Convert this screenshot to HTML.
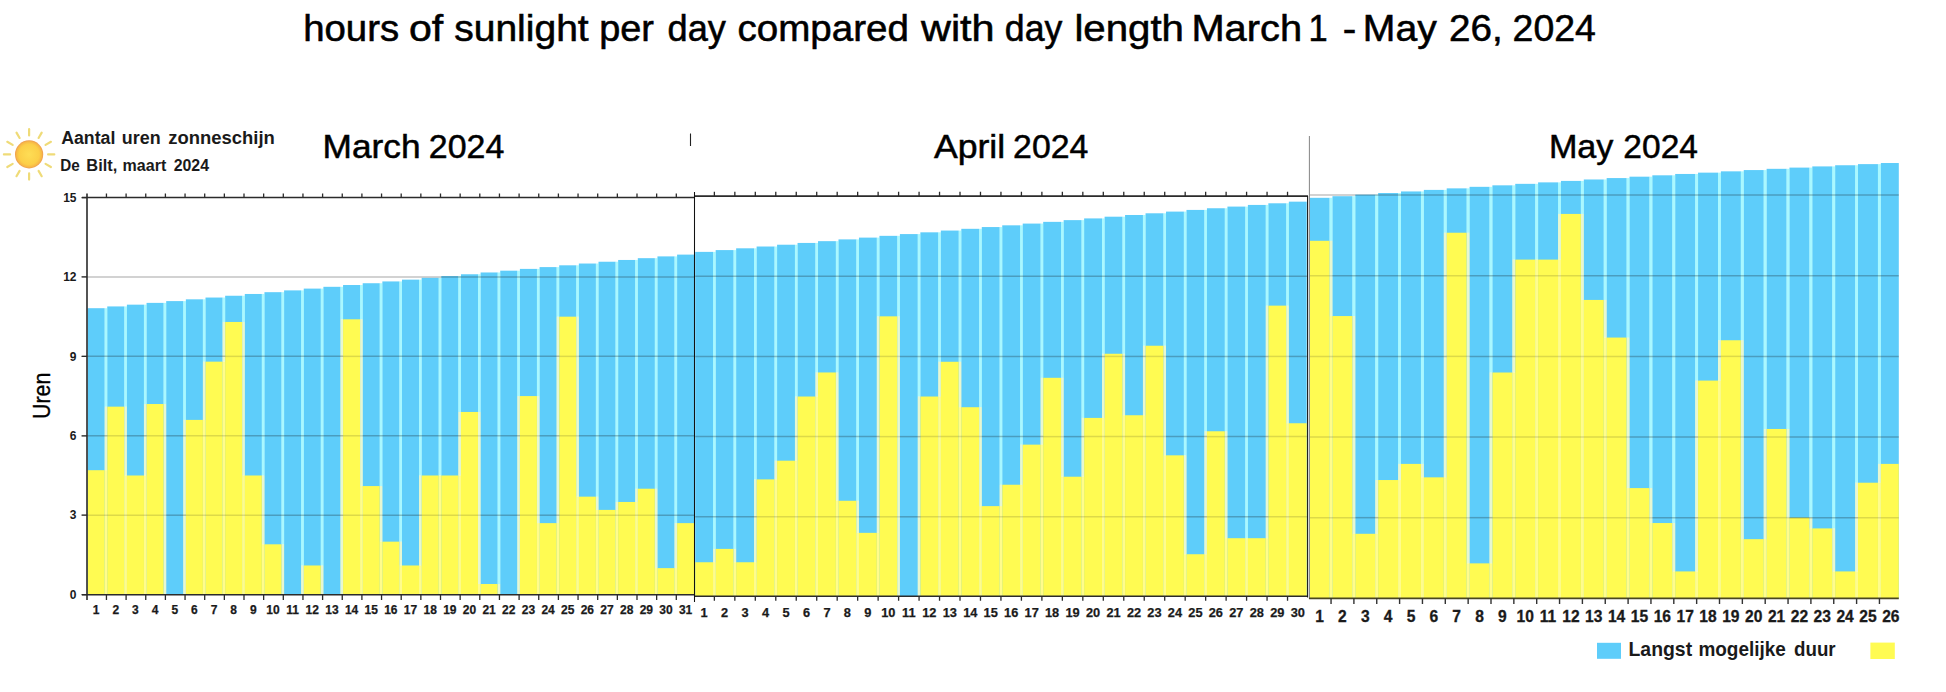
<!DOCTYPE html>
<html lang="en"><head><meta charset="utf-8"><title>hours of sunlight per day compared with day length</title>
<style>html,body{margin:0;padding:0;background:#fff}body{width:1946px;height:692px;overflow:hidden}svg{display:block}</style></head>
<body>
<svg width="1946" height="692" viewBox="0 0 1946 692">
<rect width="1946" height="692" fill="#fff"/>
<g id="bars-mar">
<rect x="87.6" y="308.2" width="17.05" height="286.4" fill="#5ecdfa"/>
<rect x="87.6" y="470.19" width="17.05" height="124.41" fill="#fffb52"/>
<rect x="107.25" y="306.43" width="17.05" height="288.17" fill="#5ecdfa"/>
<rect x="107.25" y="406.66" width="17.05" height="187.94" fill="#fffb52"/>
<rect x="126.9" y="304.66" width="17.05" height="289.94" fill="#5ecdfa"/>
<rect x="126.9" y="475.49" width="17.05" height="119.12" fill="#fffb52"/>
<rect x="146.55" y="302.88" width="17.05" height="291.72" fill="#5ecdfa"/>
<rect x="146.55" y="404.02" width="17.05" height="190.58" fill="#fffb52"/>
<rect x="166.2" y="301.1" width="17.05" height="293.5" fill="#5ecdfa"/>
<rect x="185.85" y="299.32" width="17.05" height="295.28" fill="#5ecdfa"/>
<rect x="185.85" y="419.9" width="17.05" height="174.7" fill="#fffb52"/>
<rect x="205.5" y="297.54" width="17.05" height="297.06" fill="#5ecdfa"/>
<rect x="205.5" y="361.66" width="17.05" height="232.94" fill="#fffb52"/>
<rect x="225.15" y="295.75" width="17.05" height="298.85" fill="#5ecdfa"/>
<rect x="225.15" y="321.96" width="17.05" height="272.64" fill="#fffb52"/>
<rect x="244.8" y="293.97" width="17.05" height="300.63" fill="#5ecdfa"/>
<rect x="244.8" y="475.49" width="17.05" height="119.12" fill="#fffb52"/>
<rect x="264.45" y="292.18" width="17.05" height="302.42" fill="#5ecdfa"/>
<rect x="264.45" y="544.31" width="17.05" height="50.29" fill="#fffb52"/>
<rect x="284.1" y="290.39" width="17.05" height="304.21" fill="#5ecdfa"/>
<rect x="303.75" y="288.6" width="17.05" height="306" fill="#5ecdfa"/>
<rect x="303.75" y="565.48" width="17.05" height="29.12" fill="#fffb52"/>
<rect x="323.4" y="286.81" width="17.05" height="307.79" fill="#5ecdfa"/>
<rect x="343.05" y="285.02" width="17.05" height="309.58" fill="#5ecdfa"/>
<rect x="343.05" y="319.31" width="17.05" height="275.29" fill="#fffb52"/>
<rect x="362.7" y="283.23" width="17.05" height="311.37" fill="#5ecdfa"/>
<rect x="362.7" y="486.07" width="17.05" height="108.53" fill="#fffb52"/>
<rect x="382.35" y="281.43" width="17.05" height="313.17" fill="#5ecdfa"/>
<rect x="382.35" y="541.66" width="17.05" height="52.94" fill="#fffb52"/>
<rect x="402" y="279.64" width="17.05" height="314.96" fill="#5ecdfa"/>
<rect x="402" y="565.48" width="17.05" height="29.12" fill="#fffb52"/>
<rect x="421.65" y="277.85" width="17.05" height="316.75" fill="#5ecdfa"/>
<rect x="421.65" y="475.49" width="17.05" height="119.12" fill="#fffb52"/>
<rect x="441.3" y="276.06" width="17.05" height="318.54" fill="#5ecdfa"/>
<rect x="441.3" y="475.49" width="17.05" height="119.12" fill="#fffb52"/>
<rect x="460.95" y="274.26" width="17.05" height="320.34" fill="#5ecdfa"/>
<rect x="460.95" y="411.96" width="17.05" height="182.64" fill="#fffb52"/>
<rect x="480.6" y="272.47" width="17.05" height="322.13" fill="#5ecdfa"/>
<rect x="480.6" y="584.01" width="17.05" height="10.59" fill="#fffb52"/>
<rect x="500.25" y="270.68" width="17.05" height="323.92" fill="#5ecdfa"/>
<rect x="519.9" y="268.89" width="17.05" height="325.71" fill="#5ecdfa"/>
<rect x="519.9" y="396.08" width="17.05" height="198.52" fill="#fffb52"/>
<rect x="539.55" y="267.1" width="17.05" height="327.5" fill="#5ecdfa"/>
<rect x="539.55" y="523.13" width="17.05" height="71.47" fill="#fffb52"/>
<rect x="559.2" y="265.31" width="17.05" height="329.29" fill="#5ecdfa"/>
<rect x="559.2" y="316.67" width="17.05" height="277.94" fill="#fffb52"/>
<rect x="578.85" y="263.53" width="17.05" height="331.07" fill="#5ecdfa"/>
<rect x="578.85" y="496.66" width="17.05" height="97.94" fill="#fffb52"/>
<rect x="598.5" y="261.74" width="17.05" height="332.86" fill="#5ecdfa"/>
<rect x="598.5" y="509.9" width="17.05" height="84.7" fill="#fffb52"/>
<rect x="618.15" y="259.96" width="17.05" height="334.64" fill="#5ecdfa"/>
<rect x="618.15" y="501.96" width="17.05" height="92.64" fill="#fffb52"/>
<rect x="637.8" y="258.17" width="17.05" height="336.43" fill="#5ecdfa"/>
<rect x="637.8" y="488.72" width="17.05" height="105.88" fill="#fffb52"/>
<rect x="657.45" y="256.39" width="17.05" height="338.21" fill="#5ecdfa"/>
<rect x="657.45" y="568.13" width="17.05" height="26.47" fill="#fffb52"/>
<rect x="677.1" y="254.61" width="17.05" height="339.99" fill="#5ecdfa"/>
<rect x="677.1" y="523.13" width="17.05" height="71.47" fill="#fffb52"/>
<rect x="104.6" y="308.2" width="2.7" height="98.46" fill="#62f2ff" fill-opacity="0.55"/>
<rect x="104.6" y="406.66" width="2.7" height="63.53" fill="#c9ee9a" fill-opacity="0.45"/>
<rect x="104.6" y="470.19" width="2.7" height="124.41" fill="#fffb52" fill-opacity="0.66"/>
<rect x="124.25" y="306.43" width="2.7" height="100.23" fill="#62f2ff" fill-opacity="0.55"/>
<rect x="124.25" y="406.66" width="2.7" height="68.82" fill="#c9ee9a" fill-opacity="0.45"/>
<rect x="124.25" y="475.49" width="2.7" height="119.12" fill="#fffb52" fill-opacity="0.66"/>
<rect x="143.9" y="304.66" width="2.7" height="99.36" fill="#62f2ff" fill-opacity="0.55"/>
<rect x="143.9" y="404.02" width="2.7" height="71.47" fill="#c9ee9a" fill-opacity="0.45"/>
<rect x="143.9" y="475.49" width="2.7" height="119.12" fill="#fffb52" fill-opacity="0.66"/>
<rect x="163.55" y="302.88" width="2.7" height="101.13" fill="#62f2ff" fill-opacity="0.55"/>
<rect x="163.55" y="404.02" width="2.7" height="190.58" fill="#c9ee9a" fill-opacity="0.45"/>
<rect x="183.2" y="301.1" width="2.7" height="118.8" fill="#62f2ff" fill-opacity="0.55"/>
<rect x="183.2" y="419.9" width="2.7" height="174.7" fill="#c9ee9a" fill-opacity="0.45"/>
<rect x="202.85" y="299.32" width="2.7" height="62.34" fill="#62f2ff" fill-opacity="0.55"/>
<rect x="202.85" y="361.66" width="2.7" height="58.23" fill="#c9ee9a" fill-opacity="0.45"/>
<rect x="202.85" y="419.9" width="2.7" height="174.7" fill="#fffb52" fill-opacity="0.66"/>
<rect x="222.5" y="297.54" width="2.7" height="24.42" fill="#62f2ff" fill-opacity="0.55"/>
<rect x="222.5" y="321.96" width="2.7" height="39.7" fill="#c9ee9a" fill-opacity="0.45"/>
<rect x="222.5" y="361.66" width="2.7" height="232.94" fill="#fffb52" fill-opacity="0.66"/>
<rect x="242.15" y="295.75" width="2.7" height="26.21" fill="#62f2ff" fill-opacity="0.55"/>
<rect x="242.15" y="321.96" width="2.7" height="153.53" fill="#c9ee9a" fill-opacity="0.45"/>
<rect x="242.15" y="475.49" width="2.7" height="119.12" fill="#fffb52" fill-opacity="0.66"/>
<rect x="261.8" y="293.97" width="2.7" height="181.52" fill="#62f2ff" fill-opacity="0.55"/>
<rect x="261.8" y="475.49" width="2.7" height="68.82" fill="#c9ee9a" fill-opacity="0.45"/>
<rect x="261.8" y="544.31" width="2.7" height="50.29" fill="#fffb52" fill-opacity="0.66"/>
<rect x="281.45" y="292.18" width="2.7" height="252.13" fill="#62f2ff" fill-opacity="0.55"/>
<rect x="281.45" y="544.31" width="2.7" height="50.29" fill="#c9ee9a" fill-opacity="0.45"/>
<rect x="301.1" y="290.39" width="2.7" height="275.09" fill="#62f2ff" fill-opacity="0.55"/>
<rect x="301.1" y="565.48" width="2.7" height="29.12" fill="#c9ee9a" fill-opacity="0.45"/>
<rect x="320.75" y="288.6" width="2.7" height="276.88" fill="#62f2ff" fill-opacity="0.55"/>
<rect x="320.75" y="565.48" width="2.7" height="29.12" fill="#c9ee9a" fill-opacity="0.45"/>
<rect x="340.4" y="286.81" width="2.7" height="32.5" fill="#62f2ff" fill-opacity="0.55"/>
<rect x="340.4" y="319.31" width="2.7" height="275.29" fill="#c9ee9a" fill-opacity="0.45"/>
<rect x="360.05" y="285.02" width="2.7" height="34.29" fill="#62f2ff" fill-opacity="0.55"/>
<rect x="360.05" y="319.31" width="2.7" height="166.76" fill="#c9ee9a" fill-opacity="0.45"/>
<rect x="360.05" y="486.07" width="2.7" height="108.53" fill="#fffb52" fill-opacity="0.66"/>
<rect x="379.7" y="283.23" width="2.7" height="202.85" fill="#62f2ff" fill-opacity="0.55"/>
<rect x="379.7" y="486.07" width="2.7" height="55.59" fill="#c9ee9a" fill-opacity="0.45"/>
<rect x="379.7" y="541.66" width="2.7" height="52.94" fill="#fffb52" fill-opacity="0.66"/>
<rect x="399.35" y="281.43" width="2.7" height="260.23" fill="#62f2ff" fill-opacity="0.55"/>
<rect x="399.35" y="541.66" width="2.7" height="23.82" fill="#c9ee9a" fill-opacity="0.45"/>
<rect x="399.35" y="565.48" width="2.7" height="29.12" fill="#fffb52" fill-opacity="0.66"/>
<rect x="419" y="279.64" width="2.7" height="195.84" fill="#62f2ff" fill-opacity="0.55"/>
<rect x="419" y="475.49" width="2.7" height="90" fill="#c9ee9a" fill-opacity="0.45"/>
<rect x="419" y="565.48" width="2.7" height="29.12" fill="#fffb52" fill-opacity="0.66"/>
<rect x="438.65" y="277.85" width="2.7" height="197.64" fill="#62f2ff" fill-opacity="0.55"/>
<rect x="438.65" y="475.49" width="2.7" height="119.12" fill="#fffb52" fill-opacity="0.66"/>
<rect x="458.3" y="276.06" width="2.7" height="135.9" fill="#62f2ff" fill-opacity="0.55"/>
<rect x="458.3" y="411.96" width="2.7" height="63.53" fill="#c9ee9a" fill-opacity="0.45"/>
<rect x="458.3" y="475.49" width="2.7" height="119.12" fill="#fffb52" fill-opacity="0.66"/>
<rect x="477.95" y="274.26" width="2.7" height="137.69" fill="#62f2ff" fill-opacity="0.55"/>
<rect x="477.95" y="411.96" width="2.7" height="172.06" fill="#c9ee9a" fill-opacity="0.45"/>
<rect x="477.95" y="584.01" width="2.7" height="10.59" fill="#fffb52" fill-opacity="0.66"/>
<rect x="497.6" y="272.47" width="2.7" height="311.54" fill="#62f2ff" fill-opacity="0.55"/>
<rect x="497.6" y="584.01" width="2.7" height="10.59" fill="#c9ee9a" fill-opacity="0.45"/>
<rect x="517.25" y="270.68" width="2.7" height="125.39" fill="#62f2ff" fill-opacity="0.55"/>
<rect x="517.25" y="396.08" width="2.7" height="198.52" fill="#c9ee9a" fill-opacity="0.45"/>
<rect x="536.9" y="268.89" width="2.7" height="127.18" fill="#62f2ff" fill-opacity="0.55"/>
<rect x="536.9" y="396.08" width="2.7" height="127.06" fill="#c9ee9a" fill-opacity="0.45"/>
<rect x="536.9" y="523.13" width="2.7" height="71.47" fill="#fffb52" fill-opacity="0.66"/>
<rect x="556.55" y="267.1" width="2.7" height="49.56" fill="#62f2ff" fill-opacity="0.55"/>
<rect x="556.55" y="316.67" width="2.7" height="206.47" fill="#c9ee9a" fill-opacity="0.45"/>
<rect x="556.55" y="523.13" width="2.7" height="71.47" fill="#fffb52" fill-opacity="0.66"/>
<rect x="576.2" y="265.31" width="2.7" height="51.35" fill="#62f2ff" fill-opacity="0.55"/>
<rect x="576.2" y="316.67" width="2.7" height="180" fill="#c9ee9a" fill-opacity="0.45"/>
<rect x="576.2" y="496.66" width="2.7" height="97.94" fill="#fffb52" fill-opacity="0.66"/>
<rect x="595.85" y="263.53" width="2.7" height="233.13" fill="#62f2ff" fill-opacity="0.55"/>
<rect x="595.85" y="496.66" width="2.7" height="13.24" fill="#c9ee9a" fill-opacity="0.45"/>
<rect x="595.85" y="509.9" width="2.7" height="84.7" fill="#fffb52" fill-opacity="0.66"/>
<rect x="615.5" y="261.74" width="2.7" height="240.21" fill="#62f2ff" fill-opacity="0.55"/>
<rect x="615.5" y="501.96" width="2.7" height="7.94" fill="#c9ee9a" fill-opacity="0.45"/>
<rect x="615.5" y="509.9" width="2.7" height="84.7" fill="#fffb52" fill-opacity="0.66"/>
<rect x="635.15" y="259.96" width="2.7" height="228.76" fill="#62f2ff" fill-opacity="0.55"/>
<rect x="635.15" y="488.72" width="2.7" height="13.24" fill="#c9ee9a" fill-opacity="0.45"/>
<rect x="635.15" y="501.96" width="2.7" height="92.64" fill="#fffb52" fill-opacity="0.66"/>
<rect x="654.8" y="258.17" width="2.7" height="230.55" fill="#62f2ff" fill-opacity="0.55"/>
<rect x="654.8" y="488.72" width="2.7" height="79.41" fill="#c9ee9a" fill-opacity="0.45"/>
<rect x="654.8" y="568.13" width="2.7" height="26.47" fill="#fffb52" fill-opacity="0.66"/>
<rect x="674.45" y="256.39" width="2.7" height="266.74" fill="#62f2ff" fill-opacity="0.55"/>
<rect x="674.45" y="523.13" width="2.7" height="45" fill="#c9ee9a" fill-opacity="0.45"/>
<rect x="674.45" y="568.13" width="2.7" height="26.47" fill="#fffb52" fill-opacity="0.66"/>
</g>
<g id="bars-apr">
<rect x="695.2" y="251.88" width="17.87" height="345.12" fill="#5ecdfa"/>
<rect x="695.2" y="562.25" width="17.87" height="34.75" fill="#fffb52"/>
<rect x="715.67" y="250.09" width="17.87" height="346.91" fill="#5ecdfa"/>
<rect x="715.67" y="548.89" width="17.87" height="48.11" fill="#fffb52"/>
<rect x="736.14" y="248.3" width="17.87" height="348.7" fill="#5ecdfa"/>
<rect x="736.14" y="562.25" width="17.87" height="34.75" fill="#fffb52"/>
<rect x="756.61" y="246.51" width="17.87" height="350.49" fill="#5ecdfa"/>
<rect x="756.61" y="479.39" width="17.87" height="117.61" fill="#fffb52"/>
<rect x="777.08" y="244.72" width="17.87" height="352.28" fill="#5ecdfa"/>
<rect x="777.08" y="460.68" width="17.87" height="136.32" fill="#fffb52"/>
<rect x="797.55" y="242.94" width="17.87" height="354.06" fill="#5ecdfa"/>
<rect x="797.55" y="396.52" width="17.87" height="200.48" fill="#fffb52"/>
<rect x="818.02" y="241.16" width="17.87" height="355.84" fill="#5ecdfa"/>
<rect x="818.02" y="372.47" width="17.87" height="224.53" fill="#fffb52"/>
<rect x="838.49" y="239.39" width="17.87" height="357.61" fill="#5ecdfa"/>
<rect x="838.49" y="500.77" width="17.87" height="96.23" fill="#fffb52"/>
<rect x="858.96" y="237.61" width="17.87" height="359.39" fill="#5ecdfa"/>
<rect x="858.96" y="532.85" width="17.87" height="64.15" fill="#fffb52"/>
<rect x="879.43" y="235.84" width="17.87" height="361.16" fill="#5ecdfa"/>
<rect x="879.43" y="316.33" width="17.87" height="280.67" fill="#fffb52"/>
<rect x="899.9" y="234.08" width="17.87" height="362.92" fill="#5ecdfa"/>
<rect x="920.37" y="232.32" width="17.87" height="364.68" fill="#5ecdfa"/>
<rect x="920.37" y="396.52" width="17.87" height="200.48" fill="#fffb52"/>
<rect x="940.84" y="230.56" width="17.87" height="366.44" fill="#5ecdfa"/>
<rect x="940.84" y="361.78" width="17.87" height="235.22" fill="#fffb52"/>
<rect x="961.31" y="228.81" width="17.87" height="368.19" fill="#5ecdfa"/>
<rect x="961.31" y="407.22" width="17.87" height="189.78" fill="#fffb52"/>
<rect x="981.78" y="227.06" width="17.87" height="369.94" fill="#5ecdfa"/>
<rect x="981.78" y="506.12" width="17.87" height="90.88" fill="#fffb52"/>
<rect x="1002.25" y="225.32" width="17.87" height="371.68" fill="#5ecdfa"/>
<rect x="1002.25" y="484.73" width="17.87" height="112.27" fill="#fffb52"/>
<rect x="1022.72" y="223.58" width="17.87" height="373.42" fill="#5ecdfa"/>
<rect x="1022.72" y="444.64" width="17.87" height="152.36" fill="#fffb52"/>
<rect x="1043.19" y="221.85" width="17.87" height="375.15" fill="#5ecdfa"/>
<rect x="1043.19" y="377.81" width="17.87" height="219.19" fill="#fffb52"/>
<rect x="1063.66" y="220.13" width="17.87" height="376.87" fill="#5ecdfa"/>
<rect x="1063.66" y="476.72" width="17.87" height="120.28" fill="#fffb52"/>
<rect x="1084.13" y="218.41" width="17.87" height="378.59" fill="#5ecdfa"/>
<rect x="1084.13" y="417.91" width="17.87" height="179.09" fill="#fffb52"/>
<rect x="1104.6" y="216.7" width="17.87" height="380.3" fill="#5ecdfa"/>
<rect x="1104.6" y="353.76" width="17.87" height="243.24" fill="#fffb52"/>
<rect x="1125.07" y="214.99" width="17.87" height="382.01" fill="#5ecdfa"/>
<rect x="1125.07" y="415.24" width="17.87" height="181.76" fill="#fffb52"/>
<rect x="1145.54" y="213.29" width="17.87" height="383.71" fill="#5ecdfa"/>
<rect x="1145.54" y="345.74" width="17.87" height="251.26" fill="#fffb52"/>
<rect x="1166.01" y="211.6" width="17.87" height="385.4" fill="#5ecdfa"/>
<rect x="1166.01" y="455.33" width="17.87" height="141.67" fill="#fffb52"/>
<rect x="1186.48" y="209.92" width="17.87" height="387.08" fill="#5ecdfa"/>
<rect x="1186.48" y="554.23" width="17.87" height="42.77" fill="#fffb52"/>
<rect x="1206.95" y="208.25" width="17.87" height="388.75" fill="#5ecdfa"/>
<rect x="1206.95" y="431.27" width="17.87" height="165.73" fill="#fffb52"/>
<rect x="1227.42" y="206.59" width="17.87" height="390.41" fill="#5ecdfa"/>
<rect x="1227.42" y="538.19" width="17.87" height="58.81" fill="#fffb52"/>
<rect x="1247.89" y="204.93" width="17.87" height="392.07" fill="#5ecdfa"/>
<rect x="1247.89" y="538.19" width="17.87" height="58.81" fill="#fffb52"/>
<rect x="1268.36" y="203.29" width="17.87" height="393.71" fill="#5ecdfa"/>
<rect x="1268.36" y="305.64" width="17.87" height="291.36" fill="#fffb52"/>
<rect x="1288.83" y="201.66" width="17.87" height="395.34" fill="#5ecdfa"/>
<rect x="1288.83" y="423.25" width="17.87" height="173.75" fill="#fffb52"/>
<rect x="713.02" y="251.88" width="2.7" height="297.01" fill="#62f2ff" fill-opacity="0.55"/>
<rect x="713.02" y="548.89" width="2.7" height="13.37" fill="#c9ee9a" fill-opacity="0.45"/>
<rect x="713.02" y="562.25" width="2.7" height="34.75" fill="#fffb52" fill-opacity="0.66"/>
<rect x="733.49" y="250.09" width="2.7" height="298.8" fill="#62f2ff" fill-opacity="0.55"/>
<rect x="733.49" y="548.89" width="2.7" height="13.37" fill="#c9ee9a" fill-opacity="0.45"/>
<rect x="733.49" y="562.25" width="2.7" height="34.75" fill="#fffb52" fill-opacity="0.66"/>
<rect x="753.96" y="248.3" width="2.7" height="231.09" fill="#62f2ff" fill-opacity="0.55"/>
<rect x="753.96" y="479.39" width="2.7" height="82.86" fill="#c9ee9a" fill-opacity="0.45"/>
<rect x="753.96" y="562.25" width="2.7" height="34.75" fill="#fffb52" fill-opacity="0.66"/>
<rect x="774.43" y="246.51" width="2.7" height="214.17" fill="#62f2ff" fill-opacity="0.55"/>
<rect x="774.43" y="460.68" width="2.7" height="18.71" fill="#c9ee9a" fill-opacity="0.45"/>
<rect x="774.43" y="479.39" width="2.7" height="117.61" fill="#fffb52" fill-opacity="0.66"/>
<rect x="794.9" y="244.72" width="2.7" height="151.8" fill="#62f2ff" fill-opacity="0.55"/>
<rect x="794.9" y="396.52" width="2.7" height="64.15" fill="#c9ee9a" fill-opacity="0.45"/>
<rect x="794.9" y="460.68" width="2.7" height="136.32" fill="#fffb52" fill-opacity="0.66"/>
<rect x="815.37" y="242.94" width="2.7" height="129.53" fill="#62f2ff" fill-opacity="0.55"/>
<rect x="815.37" y="372.47" width="2.7" height="24.06" fill="#c9ee9a" fill-opacity="0.45"/>
<rect x="815.37" y="396.52" width="2.7" height="200.48" fill="#fffb52" fill-opacity="0.66"/>
<rect x="835.84" y="241.16" width="2.7" height="131.31" fill="#62f2ff" fill-opacity="0.55"/>
<rect x="835.84" y="372.47" width="2.7" height="128.3" fill="#c9ee9a" fill-opacity="0.45"/>
<rect x="835.84" y="500.77" width="2.7" height="96.23" fill="#fffb52" fill-opacity="0.66"/>
<rect x="856.31" y="239.39" width="2.7" height="261.39" fill="#62f2ff" fill-opacity="0.55"/>
<rect x="856.31" y="500.77" width="2.7" height="32.08" fill="#c9ee9a" fill-opacity="0.45"/>
<rect x="856.31" y="532.85" width="2.7" height="64.15" fill="#fffb52" fill-opacity="0.66"/>
<rect x="876.78" y="237.61" width="2.7" height="78.72" fill="#62f2ff" fill-opacity="0.55"/>
<rect x="876.78" y="316.33" width="2.7" height="216.51" fill="#c9ee9a" fill-opacity="0.45"/>
<rect x="876.78" y="532.85" width="2.7" height="64.15" fill="#fffb52" fill-opacity="0.66"/>
<rect x="897.25" y="235.84" width="2.7" height="80.49" fill="#62f2ff" fill-opacity="0.55"/>
<rect x="897.25" y="316.33" width="2.7" height="280.67" fill="#c9ee9a" fill-opacity="0.45"/>
<rect x="917.72" y="234.08" width="2.7" height="162.45" fill="#62f2ff" fill-opacity="0.55"/>
<rect x="917.72" y="396.52" width="2.7" height="200.48" fill="#c9ee9a" fill-opacity="0.45"/>
<rect x="938.19" y="232.32" width="2.7" height="129.46" fill="#62f2ff" fill-opacity="0.55"/>
<rect x="938.19" y="361.78" width="2.7" height="34.75" fill="#c9ee9a" fill-opacity="0.45"/>
<rect x="938.19" y="396.52" width="2.7" height="200.48" fill="#fffb52" fill-opacity="0.66"/>
<rect x="958.66" y="230.56" width="2.7" height="131.22" fill="#62f2ff" fill-opacity="0.55"/>
<rect x="958.66" y="361.78" width="2.7" height="45.44" fill="#c9ee9a" fill-opacity="0.45"/>
<rect x="958.66" y="407.22" width="2.7" height="189.78" fill="#fffb52" fill-opacity="0.66"/>
<rect x="979.13" y="228.81" width="2.7" height="178.41" fill="#62f2ff" fill-opacity="0.55"/>
<rect x="979.13" y="407.22" width="2.7" height="98.9" fill="#c9ee9a" fill-opacity="0.45"/>
<rect x="979.13" y="506.12" width="2.7" height="90.88" fill="#fffb52" fill-opacity="0.66"/>
<rect x="999.6" y="227.06" width="2.7" height="257.67" fill="#62f2ff" fill-opacity="0.55"/>
<rect x="999.6" y="484.73" width="2.7" height="21.38" fill="#c9ee9a" fill-opacity="0.45"/>
<rect x="999.6" y="506.12" width="2.7" height="90.88" fill="#fffb52" fill-opacity="0.66"/>
<rect x="1020.07" y="225.32" width="2.7" height="219.32" fill="#62f2ff" fill-opacity="0.55"/>
<rect x="1020.07" y="444.64" width="2.7" height="40.09" fill="#c9ee9a" fill-opacity="0.45"/>
<rect x="1020.07" y="484.73" width="2.7" height="112.27" fill="#fffb52" fill-opacity="0.66"/>
<rect x="1040.54" y="223.58" width="2.7" height="154.23" fill="#62f2ff" fill-opacity="0.55"/>
<rect x="1040.54" y="377.81" width="2.7" height="66.82" fill="#c9ee9a" fill-opacity="0.45"/>
<rect x="1040.54" y="444.64" width="2.7" height="152.36" fill="#fffb52" fill-opacity="0.66"/>
<rect x="1061.01" y="221.85" width="2.7" height="155.96" fill="#62f2ff" fill-opacity="0.55"/>
<rect x="1061.01" y="377.81" width="2.7" height="98.9" fill="#c9ee9a" fill-opacity="0.45"/>
<rect x="1061.01" y="476.72" width="2.7" height="120.28" fill="#fffb52" fill-opacity="0.66"/>
<rect x="1081.48" y="220.13" width="2.7" height="197.78" fill="#62f2ff" fill-opacity="0.55"/>
<rect x="1081.48" y="417.91" width="2.7" height="58.81" fill="#c9ee9a" fill-opacity="0.45"/>
<rect x="1081.48" y="476.72" width="2.7" height="120.28" fill="#fffb52" fill-opacity="0.66"/>
<rect x="1101.95" y="218.41" width="2.7" height="135.35" fill="#62f2ff" fill-opacity="0.55"/>
<rect x="1101.95" y="353.76" width="2.7" height="64.15" fill="#c9ee9a" fill-opacity="0.45"/>
<rect x="1101.95" y="417.91" width="2.7" height="179.09" fill="#fffb52" fill-opacity="0.66"/>
<rect x="1122.42" y="216.7" width="2.7" height="137.06" fill="#62f2ff" fill-opacity="0.55"/>
<rect x="1122.42" y="353.76" width="2.7" height="61.48" fill="#c9ee9a" fill-opacity="0.45"/>
<rect x="1122.42" y="415.24" width="2.7" height="181.76" fill="#fffb52" fill-opacity="0.66"/>
<rect x="1142.89" y="214.99" width="2.7" height="130.75" fill="#62f2ff" fill-opacity="0.55"/>
<rect x="1142.89" y="345.74" width="2.7" height="69.5" fill="#c9ee9a" fill-opacity="0.45"/>
<rect x="1142.89" y="415.24" width="2.7" height="181.76" fill="#fffb52" fill-opacity="0.66"/>
<rect x="1163.36" y="213.29" width="2.7" height="132.44" fill="#62f2ff" fill-opacity="0.55"/>
<rect x="1163.36" y="345.74" width="2.7" height="109.59" fill="#c9ee9a" fill-opacity="0.45"/>
<rect x="1163.36" y="455.33" width="2.7" height="141.67" fill="#fffb52" fill-opacity="0.66"/>
<rect x="1183.83" y="211.6" width="2.7" height="243.73" fill="#62f2ff" fill-opacity="0.55"/>
<rect x="1183.83" y="455.33" width="2.7" height="98.9" fill="#c9ee9a" fill-opacity="0.45"/>
<rect x="1183.83" y="554.23" width="2.7" height="42.77" fill="#fffb52" fill-opacity="0.66"/>
<rect x="1204.3" y="209.92" width="2.7" height="221.35" fill="#62f2ff" fill-opacity="0.55"/>
<rect x="1204.3" y="431.27" width="2.7" height="122.96" fill="#c9ee9a" fill-opacity="0.45"/>
<rect x="1204.3" y="554.23" width="2.7" height="42.77" fill="#fffb52" fill-opacity="0.66"/>
<rect x="1224.77" y="208.25" width="2.7" height="223.02" fill="#62f2ff" fill-opacity="0.55"/>
<rect x="1224.77" y="431.27" width="2.7" height="106.92" fill="#c9ee9a" fill-opacity="0.45"/>
<rect x="1224.77" y="538.19" width="2.7" height="58.81" fill="#fffb52" fill-opacity="0.66"/>
<rect x="1245.24" y="206.59" width="2.7" height="331.61" fill="#62f2ff" fill-opacity="0.55"/>
<rect x="1245.24" y="538.19" width="2.7" height="58.81" fill="#fffb52" fill-opacity="0.66"/>
<rect x="1265.71" y="204.93" width="2.7" height="100.71" fill="#62f2ff" fill-opacity="0.55"/>
<rect x="1265.71" y="305.64" width="2.7" height="232.55" fill="#c9ee9a" fill-opacity="0.45"/>
<rect x="1265.71" y="538.19" width="2.7" height="58.81" fill="#fffb52" fill-opacity="0.66"/>
<rect x="1286.18" y="203.29" width="2.7" height="102.35" fill="#62f2ff" fill-opacity="0.55"/>
<rect x="1286.18" y="305.64" width="2.7" height="117.61" fill="#c9ee9a" fill-opacity="0.45"/>
<rect x="1286.18" y="423.25" width="2.7" height="173.75" fill="#fffb52" fill-opacity="0.66"/>
</g>
<g id="bars-may">
<rect x="1309.6" y="197.81" width="19.95" height="400.49" fill="#5ecdfa"/>
<rect x="1309.6" y="240.8" width="19.95" height="357.5" fill="#fffb52"/>
<rect x="1332.45" y="196.2" width="19.95" height="402.1" fill="#5ecdfa"/>
<rect x="1332.45" y="316.06" width="19.95" height="282.24" fill="#fffb52"/>
<rect x="1355.3" y="194.61" width="19.95" height="403.69" fill="#5ecdfa"/>
<rect x="1355.3" y="533.79" width="19.95" height="64.51" fill="#fffb52"/>
<rect x="1378.15" y="193.02" width="19.95" height="405.28" fill="#5ecdfa"/>
<rect x="1378.15" y="480.03" width="19.95" height="118.27" fill="#fffb52"/>
<rect x="1401" y="191.45" width="19.95" height="406.85" fill="#5ecdfa"/>
<rect x="1401" y="463.9" width="19.95" height="134.4" fill="#fffb52"/>
<rect x="1423.85" y="189.9" width="19.95" height="408.4" fill="#5ecdfa"/>
<rect x="1423.85" y="477.34" width="19.95" height="120.96" fill="#fffb52"/>
<rect x="1446.7" y="188.36" width="19.95" height="409.94" fill="#5ecdfa"/>
<rect x="1446.7" y="232.73" width="19.95" height="365.57" fill="#fffb52"/>
<rect x="1469.55" y="186.83" width="19.95" height="411.47" fill="#5ecdfa"/>
<rect x="1469.55" y="563.36" width="19.95" height="34.94" fill="#fffb52"/>
<rect x="1492.4" y="185.33" width="19.95" height="412.97" fill="#5ecdfa"/>
<rect x="1492.4" y="372.51" width="19.95" height="225.79" fill="#fffb52"/>
<rect x="1515.25" y="183.84" width="19.95" height="414.46" fill="#5ecdfa"/>
<rect x="1515.25" y="259.61" width="19.95" height="338.69" fill="#fffb52"/>
<rect x="1538.1" y="182.37" width="19.95" height="415.93" fill="#5ecdfa"/>
<rect x="1538.1" y="259.61" width="19.95" height="338.69" fill="#fffb52"/>
<rect x="1560.95" y="180.91" width="19.95" height="417.39" fill="#5ecdfa"/>
<rect x="1560.95" y="213.92" width="19.95" height="384.38" fill="#fffb52"/>
<rect x="1583.8" y="179.48" width="19.95" height="418.82" fill="#5ecdfa"/>
<rect x="1583.8" y="299.93" width="19.95" height="298.37" fill="#fffb52"/>
<rect x="1606.65" y="178.07" width="19.95" height="420.23" fill="#5ecdfa"/>
<rect x="1606.65" y="337.56" width="19.95" height="260.74" fill="#fffb52"/>
<rect x="1629.5" y="176.68" width="19.95" height="421.62" fill="#5ecdfa"/>
<rect x="1629.5" y="488.09" width="19.95" height="110.21" fill="#fffb52"/>
<rect x="1652.35" y="175.31" width="19.95" height="422.99" fill="#5ecdfa"/>
<rect x="1652.35" y="523.04" width="19.95" height="75.26" fill="#fffb52"/>
<rect x="1675.2" y="173.96" width="19.95" height="424.34" fill="#5ecdfa"/>
<rect x="1675.2" y="571.42" width="19.95" height="26.88" fill="#fffb52"/>
<rect x="1698.05" y="172.64" width="19.95" height="425.66" fill="#5ecdfa"/>
<rect x="1698.05" y="380.57" width="19.95" height="217.73" fill="#fffb52"/>
<rect x="1720.9" y="171.34" width="19.95" height="426.96" fill="#5ecdfa"/>
<rect x="1720.9" y="340.25" width="19.95" height="258.05" fill="#fffb52"/>
<rect x="1743.75" y="170.07" width="19.95" height="428.23" fill="#5ecdfa"/>
<rect x="1743.75" y="539.16" width="19.95" height="59.14" fill="#fffb52"/>
<rect x="1766.6" y="168.82" width="19.95" height="429.48" fill="#5ecdfa"/>
<rect x="1766.6" y="428.96" width="19.95" height="169.34" fill="#fffb52"/>
<rect x="1789.45" y="167.6" width="19.95" height="430.7" fill="#5ecdfa"/>
<rect x="1789.45" y="517.66" width="19.95" height="80.64" fill="#fffb52"/>
<rect x="1812.3" y="166.41" width="19.95" height="431.89" fill="#5ecdfa"/>
<rect x="1812.3" y="528.41" width="19.95" height="69.89" fill="#fffb52"/>
<rect x="1835.15" y="165.25" width="19.95" height="433.05" fill="#5ecdfa"/>
<rect x="1835.15" y="571.42" width="19.95" height="26.88" fill="#fffb52"/>
<rect x="1858" y="164.12" width="19.95" height="434.18" fill="#5ecdfa"/>
<rect x="1858" y="482.72" width="19.95" height="115.58" fill="#fffb52"/>
<rect x="1880.85" y="163.02" width="17.95" height="435.28" fill="#5ecdfa"/>
<rect x="1880.85" y="463.9" width="17.95" height="134.4" fill="#fffb52"/>
<rect x="1329.5" y="197.81" width="3" height="42.98" fill="#62f2ff" fill-opacity="0.55"/>
<rect x="1329.5" y="240.8" width="3" height="75.26" fill="#c9ee9a" fill-opacity="0.45"/>
<rect x="1329.5" y="316.06" width="3" height="282.24" fill="#fffb52" fill-opacity="0.66"/>
<rect x="1352.35" y="196.2" width="3" height="119.86" fill="#62f2ff" fill-opacity="0.55"/>
<rect x="1352.35" y="316.06" width="3" height="217.73" fill="#c9ee9a" fill-opacity="0.45"/>
<rect x="1352.35" y="533.79" width="3" height="64.51" fill="#fffb52" fill-opacity="0.66"/>
<rect x="1375.2" y="194.61" width="3" height="285.42" fill="#62f2ff" fill-opacity="0.55"/>
<rect x="1375.2" y="480.03" width="3" height="53.76" fill="#c9ee9a" fill-opacity="0.45"/>
<rect x="1375.2" y="533.79" width="3" height="64.51" fill="#fffb52" fill-opacity="0.66"/>
<rect x="1398.05" y="193.02" width="3" height="270.88" fill="#62f2ff" fill-opacity="0.55"/>
<rect x="1398.05" y="463.9" width="3" height="16.13" fill="#c9ee9a" fill-opacity="0.45"/>
<rect x="1398.05" y="480.03" width="3" height="118.27" fill="#fffb52" fill-opacity="0.66"/>
<rect x="1420.9" y="191.45" width="3" height="272.45" fill="#62f2ff" fill-opacity="0.55"/>
<rect x="1420.9" y="463.9" width="3" height="13.44" fill="#c9ee9a" fill-opacity="0.45"/>
<rect x="1420.9" y="477.34" width="3" height="120.96" fill="#fffb52" fill-opacity="0.66"/>
<rect x="1443.75" y="189.9" width="3" height="42.83" fill="#62f2ff" fill-opacity="0.55"/>
<rect x="1443.75" y="232.73" width="3" height="244.61" fill="#c9ee9a" fill-opacity="0.45"/>
<rect x="1443.75" y="477.34" width="3" height="120.96" fill="#fffb52" fill-opacity="0.66"/>
<rect x="1466.6" y="188.36" width="3" height="44.37" fill="#62f2ff" fill-opacity="0.55"/>
<rect x="1466.6" y="232.73" width="3" height="330.62" fill="#c9ee9a" fill-opacity="0.45"/>
<rect x="1466.6" y="563.36" width="3" height="34.94" fill="#fffb52" fill-opacity="0.66"/>
<rect x="1489.45" y="186.83" width="3" height="185.67" fill="#62f2ff" fill-opacity="0.55"/>
<rect x="1489.45" y="372.51" width="3" height="190.85" fill="#c9ee9a" fill-opacity="0.45"/>
<rect x="1489.45" y="563.36" width="3" height="34.94" fill="#fffb52" fill-opacity="0.66"/>
<rect x="1512.3" y="185.33" width="3" height="74.28" fill="#62f2ff" fill-opacity="0.55"/>
<rect x="1512.3" y="259.61" width="3" height="112.9" fill="#c9ee9a" fill-opacity="0.45"/>
<rect x="1512.3" y="372.51" width="3" height="225.79" fill="#fffb52" fill-opacity="0.66"/>
<rect x="1535.15" y="183.84" width="3" height="75.77" fill="#62f2ff" fill-opacity="0.55"/>
<rect x="1535.15" y="259.61" width="3" height="338.69" fill="#fffb52" fill-opacity="0.66"/>
<rect x="1558" y="182.37" width="3" height="31.55" fill="#62f2ff" fill-opacity="0.55"/>
<rect x="1558" y="213.92" width="3" height="45.7" fill="#c9ee9a" fill-opacity="0.45"/>
<rect x="1558" y="259.61" width="3" height="338.69" fill="#fffb52" fill-opacity="0.66"/>
<rect x="1580.85" y="180.91" width="3" height="33" fill="#62f2ff" fill-opacity="0.55"/>
<rect x="1580.85" y="213.92" width="3" height="86.02" fill="#c9ee9a" fill-opacity="0.45"/>
<rect x="1580.85" y="299.93" width="3" height="298.37" fill="#fffb52" fill-opacity="0.66"/>
<rect x="1603.7" y="179.48" width="3" height="120.45" fill="#62f2ff" fill-opacity="0.55"/>
<rect x="1603.7" y="299.93" width="3" height="37.63" fill="#c9ee9a" fill-opacity="0.45"/>
<rect x="1603.7" y="337.56" width="3" height="260.74" fill="#fffb52" fill-opacity="0.66"/>
<rect x="1626.55" y="178.07" width="3" height="159.5" fill="#62f2ff" fill-opacity="0.55"/>
<rect x="1626.55" y="337.56" width="3" height="150.53" fill="#c9ee9a" fill-opacity="0.45"/>
<rect x="1626.55" y="488.09" width="3" height="110.21" fill="#fffb52" fill-opacity="0.66"/>
<rect x="1649.4" y="176.68" width="3" height="311.42" fill="#62f2ff" fill-opacity="0.55"/>
<rect x="1649.4" y="488.09" width="3" height="34.94" fill="#c9ee9a" fill-opacity="0.45"/>
<rect x="1649.4" y="523.04" width="3" height="75.26" fill="#fffb52" fill-opacity="0.66"/>
<rect x="1672.25" y="175.31" width="3" height="347.73" fill="#62f2ff" fill-opacity="0.55"/>
<rect x="1672.25" y="523.04" width="3" height="48.38" fill="#c9ee9a" fill-opacity="0.45"/>
<rect x="1672.25" y="571.42" width="3" height="26.88" fill="#fffb52" fill-opacity="0.66"/>
<rect x="1695.1" y="173.96" width="3" height="206.61" fill="#62f2ff" fill-opacity="0.55"/>
<rect x="1695.1" y="380.57" width="3" height="190.85" fill="#c9ee9a" fill-opacity="0.45"/>
<rect x="1695.1" y="571.42" width="3" height="26.88" fill="#fffb52" fill-opacity="0.66"/>
<rect x="1717.95" y="172.64" width="3" height="167.61" fill="#62f2ff" fill-opacity="0.55"/>
<rect x="1717.95" y="340.25" width="3" height="40.32" fill="#c9ee9a" fill-opacity="0.45"/>
<rect x="1717.95" y="380.57" width="3" height="217.73" fill="#fffb52" fill-opacity="0.66"/>
<rect x="1740.8" y="171.34" width="3" height="168.91" fill="#62f2ff" fill-opacity="0.55"/>
<rect x="1740.8" y="340.25" width="3" height="198.91" fill="#c9ee9a" fill-opacity="0.45"/>
<rect x="1740.8" y="539.16" width="3" height="59.14" fill="#fffb52" fill-opacity="0.66"/>
<rect x="1763.65" y="170.07" width="3" height="258.89" fill="#62f2ff" fill-opacity="0.55"/>
<rect x="1763.65" y="428.96" width="3" height="110.21" fill="#c9ee9a" fill-opacity="0.45"/>
<rect x="1763.65" y="539.16" width="3" height="59.14" fill="#fffb52" fill-opacity="0.66"/>
<rect x="1786.5" y="168.82" width="3" height="260.14" fill="#62f2ff" fill-opacity="0.55"/>
<rect x="1786.5" y="428.96" width="3" height="88.7" fill="#c9ee9a" fill-opacity="0.45"/>
<rect x="1786.5" y="517.66" width="3" height="80.64" fill="#fffb52" fill-opacity="0.66"/>
<rect x="1809.35" y="167.6" width="3" height="350.06" fill="#62f2ff" fill-opacity="0.55"/>
<rect x="1809.35" y="517.66" width="3" height="10.75" fill="#c9ee9a" fill-opacity="0.45"/>
<rect x="1809.35" y="528.41" width="3" height="69.89" fill="#fffb52" fill-opacity="0.66"/>
<rect x="1832.2" y="166.41" width="3" height="362" fill="#62f2ff" fill-opacity="0.55"/>
<rect x="1832.2" y="528.41" width="3" height="43.01" fill="#c9ee9a" fill-opacity="0.45"/>
<rect x="1832.2" y="571.42" width="3" height="26.88" fill="#fffb52" fill-opacity="0.66"/>
<rect x="1855.05" y="165.25" width="3" height="317.47" fill="#62f2ff" fill-opacity="0.55"/>
<rect x="1855.05" y="482.72" width="3" height="88.7" fill="#c9ee9a" fill-opacity="0.45"/>
<rect x="1855.05" y="571.42" width="3" height="26.88" fill="#fffb52" fill-opacity="0.66"/>
<rect x="1877.9" y="164.12" width="3" height="299.78" fill="#62f2ff" fill-opacity="0.55"/>
<rect x="1877.9" y="463.9" width="3" height="18.82" fill="#c9ee9a" fill-opacity="0.45"/>
<rect x="1877.9" y="482.72" width="3" height="115.58" fill="#fffb52" fill-opacity="0.66"/>
</g>
<line x1="82" x2="694.5" y1="276.96" y2="276.96" stroke="#111" stroke-opacity="0.25" stroke-width="1.5"/>
<line x1="82" x2="225.15" y1="356.37" y2="356.37" stroke="#111" stroke-opacity="0.25" stroke-width="1.5"/>
<line x1="225.15" x2="244.8" y1="356.37" y2="356.37" stroke="#111" stroke-opacity="0.14" stroke-width="1.5"/>
<line x1="244.8" x2="343.05" y1="356.37" y2="356.37" stroke="#111" stroke-opacity="0.25" stroke-width="1.5"/>
<line x1="343.05" x2="362.7" y1="356.37" y2="356.37" stroke="#111" stroke-opacity="0.14" stroke-width="1.5"/>
<line x1="362.7" x2="559.2" y1="356.37" y2="356.37" stroke="#111" stroke-opacity="0.25" stroke-width="1.5"/>
<line x1="559.2" x2="578.85" y1="356.37" y2="356.37" stroke="#111" stroke-opacity="0.14" stroke-width="1.5"/>
<line x1="578.85" x2="694.5" y1="356.37" y2="356.37" stroke="#111" stroke-opacity="0.25" stroke-width="1.5"/>
<line x1="82" x2="107.25" y1="435.78" y2="435.78" stroke="#111" stroke-opacity="0.25" stroke-width="1.5"/>
<line x1="107.25" x2="126.9" y1="435.78" y2="435.78" stroke="#111" stroke-opacity="0.14" stroke-width="1.5"/>
<line x1="126.9" x2="146.55" y1="435.78" y2="435.78" stroke="#111" stroke-opacity="0.25" stroke-width="1.5"/>
<line x1="146.55" x2="166.2" y1="435.78" y2="435.78" stroke="#111" stroke-opacity="0.14" stroke-width="1.5"/>
<line x1="166.2" x2="185.85" y1="435.78" y2="435.78" stroke="#111" stroke-opacity="0.25" stroke-width="1.5"/>
<line x1="185.85" x2="244.8" y1="435.78" y2="435.78" stroke="#111" stroke-opacity="0.14" stroke-width="1.5"/>
<line x1="244.8" x2="343.05" y1="435.78" y2="435.78" stroke="#111" stroke-opacity="0.25" stroke-width="1.5"/>
<line x1="343.05" x2="362.7" y1="435.78" y2="435.78" stroke="#111" stroke-opacity="0.14" stroke-width="1.5"/>
<line x1="362.7" x2="460.95" y1="435.78" y2="435.78" stroke="#111" stroke-opacity="0.25" stroke-width="1.5"/>
<line x1="460.95" x2="480.6" y1="435.78" y2="435.78" stroke="#111" stroke-opacity="0.14" stroke-width="1.5"/>
<line x1="480.6" x2="519.9" y1="435.78" y2="435.78" stroke="#111" stroke-opacity="0.25" stroke-width="1.5"/>
<line x1="519.9" x2="539.55" y1="435.78" y2="435.78" stroke="#111" stroke-opacity="0.14" stroke-width="1.5"/>
<line x1="539.55" x2="559.2" y1="435.78" y2="435.78" stroke="#111" stroke-opacity="0.25" stroke-width="1.5"/>
<line x1="559.2" x2="578.85" y1="435.78" y2="435.78" stroke="#111" stroke-opacity="0.14" stroke-width="1.5"/>
<line x1="578.85" x2="694.5" y1="435.78" y2="435.78" stroke="#111" stroke-opacity="0.25" stroke-width="1.5"/>
<line x1="82" x2="87.6" y1="515.19" y2="515.19" stroke="#111" stroke-opacity="0.25" stroke-width="1.5"/>
<line x1="87.6" x2="166.2" y1="515.19" y2="515.19" stroke="#111" stroke-opacity="0.14" stroke-width="1.5"/>
<line x1="166.2" x2="185.85" y1="515.19" y2="515.19" stroke="#111" stroke-opacity="0.25" stroke-width="1.5"/>
<line x1="185.85" x2="264.45" y1="515.19" y2="515.19" stroke="#111" stroke-opacity="0.14" stroke-width="1.5"/>
<line x1="264.45" x2="343.05" y1="515.19" y2="515.19" stroke="#111" stroke-opacity="0.25" stroke-width="1.5"/>
<line x1="343.05" x2="382.35" y1="515.19" y2="515.19" stroke="#111" stroke-opacity="0.14" stroke-width="1.5"/>
<line x1="382.35" x2="421.65" y1="515.19" y2="515.19" stroke="#111" stroke-opacity="0.25" stroke-width="1.5"/>
<line x1="421.65" x2="480.6" y1="515.19" y2="515.19" stroke="#111" stroke-opacity="0.14" stroke-width="1.5"/>
<line x1="480.6" x2="519.9" y1="515.19" y2="515.19" stroke="#111" stroke-opacity="0.25" stroke-width="1.5"/>
<line x1="519.9" x2="539.55" y1="515.19" y2="515.19" stroke="#111" stroke-opacity="0.14" stroke-width="1.5"/>
<line x1="539.55" x2="559.2" y1="515.19" y2="515.19" stroke="#111" stroke-opacity="0.25" stroke-width="1.5"/>
<line x1="559.2" x2="657.45" y1="515.19" y2="515.19" stroke="#111" stroke-opacity="0.14" stroke-width="1.5"/>
<line x1="657.45" x2="694.5" y1="515.19" y2="515.19" stroke="#111" stroke-opacity="0.25" stroke-width="1.5"/>
<line x1="695.2" x2="1308" y1="276.24" y2="276.24" stroke="#111" stroke-opacity="0.25" stroke-width="1.5"/>
<line x1="695.2" x2="879.43" y1="356.43" y2="356.43" stroke="#111" stroke-opacity="0.25" stroke-width="1.5"/>
<line x1="879.43" x2="899.9" y1="356.43" y2="356.43" stroke="#111" stroke-opacity="0.14" stroke-width="1.5"/>
<line x1="899.9" x2="1104.6" y1="356.43" y2="356.43" stroke="#111" stroke-opacity="0.25" stroke-width="1.5"/>
<line x1="1104.6" x2="1125.07" y1="356.43" y2="356.43" stroke="#111" stroke-opacity="0.14" stroke-width="1.5"/>
<line x1="1125.07" x2="1145.54" y1="356.43" y2="356.43" stroke="#111" stroke-opacity="0.25" stroke-width="1.5"/>
<line x1="1145.54" x2="1166.01" y1="356.43" y2="356.43" stroke="#111" stroke-opacity="0.14" stroke-width="1.5"/>
<line x1="1166.01" x2="1268.36" y1="356.43" y2="356.43" stroke="#111" stroke-opacity="0.25" stroke-width="1.5"/>
<line x1="1268.36" x2="1288.83" y1="356.43" y2="356.43" stroke="#111" stroke-opacity="0.14" stroke-width="1.5"/>
<line x1="1288.83" x2="1308" y1="356.43" y2="356.43" stroke="#111" stroke-opacity="0.25" stroke-width="1.5"/>
<line x1="695.2" x2="797.55" y1="436.62" y2="436.62" stroke="#111" stroke-opacity="0.25" stroke-width="1.5"/>
<line x1="797.55" x2="838.49" y1="436.62" y2="436.62" stroke="#111" stroke-opacity="0.14" stroke-width="1.5"/>
<line x1="838.49" x2="879.43" y1="436.62" y2="436.62" stroke="#111" stroke-opacity="0.25" stroke-width="1.5"/>
<line x1="879.43" x2="899.9" y1="436.62" y2="436.62" stroke="#111" stroke-opacity="0.14" stroke-width="1.5"/>
<line x1="899.9" x2="920.37" y1="436.62" y2="436.62" stroke="#111" stroke-opacity="0.25" stroke-width="1.5"/>
<line x1="920.37" x2="981.78" y1="436.62" y2="436.62" stroke="#111" stroke-opacity="0.14" stroke-width="1.5"/>
<line x1="981.78" x2="1043.19" y1="436.62" y2="436.62" stroke="#111" stroke-opacity="0.25" stroke-width="1.5"/>
<line x1="1043.19" x2="1063.66" y1="436.62" y2="436.62" stroke="#111" stroke-opacity="0.14" stroke-width="1.5"/>
<line x1="1063.66" x2="1084.13" y1="436.62" y2="436.62" stroke="#111" stroke-opacity="0.25" stroke-width="1.5"/>
<line x1="1084.13" x2="1166.01" y1="436.62" y2="436.62" stroke="#111" stroke-opacity="0.14" stroke-width="1.5"/>
<line x1="1166.01" x2="1206.95" y1="436.62" y2="436.62" stroke="#111" stroke-opacity="0.25" stroke-width="1.5"/>
<line x1="1206.95" x2="1227.42" y1="436.62" y2="436.62" stroke="#111" stroke-opacity="0.14" stroke-width="1.5"/>
<line x1="1227.42" x2="1268.36" y1="436.62" y2="436.62" stroke="#111" stroke-opacity="0.25" stroke-width="1.5"/>
<line x1="1268.36" x2="1308" y1="436.62" y2="436.62" stroke="#111" stroke-opacity="0.14" stroke-width="1.5"/>
<line x1="695.2" x2="756.61" y1="516.81" y2="516.81" stroke="#111" stroke-opacity="0.25" stroke-width="1.5"/>
<line x1="756.61" x2="858.96" y1="516.81" y2="516.81" stroke="#111" stroke-opacity="0.14" stroke-width="1.5"/>
<line x1="858.96" x2="879.43" y1="516.81" y2="516.81" stroke="#111" stroke-opacity="0.25" stroke-width="1.5"/>
<line x1="879.43" x2="899.9" y1="516.81" y2="516.81" stroke="#111" stroke-opacity="0.14" stroke-width="1.5"/>
<line x1="899.9" x2="920.37" y1="516.81" y2="516.81" stroke="#111" stroke-opacity="0.25" stroke-width="1.5"/>
<line x1="920.37" x2="1186.48" y1="516.81" y2="516.81" stroke="#111" stroke-opacity="0.14" stroke-width="1.5"/>
<line x1="1186.48" x2="1206.95" y1="516.81" y2="516.81" stroke="#111" stroke-opacity="0.25" stroke-width="1.5"/>
<line x1="1206.95" x2="1227.42" y1="516.81" y2="516.81" stroke="#111" stroke-opacity="0.14" stroke-width="1.5"/>
<line x1="1227.42" x2="1268.36" y1="516.81" y2="516.81" stroke="#111" stroke-opacity="0.25" stroke-width="1.5"/>
<line x1="1268.36" x2="1308" y1="516.81" y2="516.81" stroke="#111" stroke-opacity="0.14" stroke-width="1.5"/>
<line x1="1309.6" x2="1898.8" y1="195.1" y2="195.1" stroke="#111" stroke-opacity="0.25" stroke-width="1.5"/>
<line x1="1309.6" x2="1332.45" y1="275.74" y2="275.74" stroke="#111" stroke-opacity="0.14" stroke-width="1.5"/>
<line x1="1332.45" x2="1446.7" y1="275.74" y2="275.74" stroke="#111" stroke-opacity="0.25" stroke-width="1.5"/>
<line x1="1446.7" x2="1469.55" y1="275.74" y2="275.74" stroke="#111" stroke-opacity="0.14" stroke-width="1.5"/>
<line x1="1469.55" x2="1515.25" y1="275.74" y2="275.74" stroke="#111" stroke-opacity="0.25" stroke-width="1.5"/>
<line x1="1515.25" x2="1583.8" y1="275.74" y2="275.74" stroke="#111" stroke-opacity="0.14" stroke-width="1.5"/>
<line x1="1583.8" x2="1898.8" y1="275.74" y2="275.74" stroke="#111" stroke-opacity="0.25" stroke-width="1.5"/>
<line x1="1309.6" x2="1355.3" y1="356.38" y2="356.38" stroke="#111" stroke-opacity="0.14" stroke-width="1.5"/>
<line x1="1355.3" x2="1446.7" y1="356.38" y2="356.38" stroke="#111" stroke-opacity="0.25" stroke-width="1.5"/>
<line x1="1446.7" x2="1469.55" y1="356.38" y2="356.38" stroke="#111" stroke-opacity="0.14" stroke-width="1.5"/>
<line x1="1469.55" x2="1515.25" y1="356.38" y2="356.38" stroke="#111" stroke-opacity="0.25" stroke-width="1.5"/>
<line x1="1515.25" x2="1629.5" y1="356.38" y2="356.38" stroke="#111" stroke-opacity="0.14" stroke-width="1.5"/>
<line x1="1629.5" x2="1720.9" y1="356.38" y2="356.38" stroke="#111" stroke-opacity="0.25" stroke-width="1.5"/>
<line x1="1720.9" x2="1743.75" y1="356.38" y2="356.38" stroke="#111" stroke-opacity="0.14" stroke-width="1.5"/>
<line x1="1743.75" x2="1898.8" y1="356.38" y2="356.38" stroke="#111" stroke-opacity="0.25" stroke-width="1.5"/>
<line x1="1309.6" x2="1355.3" y1="437.02" y2="437.02" stroke="#111" stroke-opacity="0.14" stroke-width="1.5"/>
<line x1="1355.3" x2="1446.7" y1="437.02" y2="437.02" stroke="#111" stroke-opacity="0.25" stroke-width="1.5"/>
<line x1="1446.7" x2="1469.55" y1="437.02" y2="437.02" stroke="#111" stroke-opacity="0.14" stroke-width="1.5"/>
<line x1="1469.55" x2="1492.4" y1="437.02" y2="437.02" stroke="#111" stroke-opacity="0.25" stroke-width="1.5"/>
<line x1="1492.4" x2="1629.5" y1="437.02" y2="437.02" stroke="#111" stroke-opacity="0.14" stroke-width="1.5"/>
<line x1="1629.5" x2="1698.05" y1="437.02" y2="437.02" stroke="#111" stroke-opacity="0.25" stroke-width="1.5"/>
<line x1="1698.05" x2="1743.75" y1="437.02" y2="437.02" stroke="#111" stroke-opacity="0.14" stroke-width="1.5"/>
<line x1="1743.75" x2="1766.6" y1="437.02" y2="437.02" stroke="#111" stroke-opacity="0.25" stroke-width="1.5"/>
<line x1="1766.6" x2="1789.45" y1="437.02" y2="437.02" stroke="#111" stroke-opacity="0.14" stroke-width="1.5"/>
<line x1="1789.45" x2="1898.8" y1="437.02" y2="437.02" stroke="#111" stroke-opacity="0.25" stroke-width="1.5"/>
<line x1="1309.6" x2="1355.3" y1="517.66" y2="517.66" stroke="#111" stroke-opacity="0.14" stroke-width="1.5"/>
<line x1="1355.3" x2="1378.15" y1="517.66" y2="517.66" stroke="#111" stroke-opacity="0.25" stroke-width="1.5"/>
<line x1="1378.15" x2="1469.55" y1="517.66" y2="517.66" stroke="#111" stroke-opacity="0.14" stroke-width="1.5"/>
<line x1="1469.55" x2="1492.4" y1="517.66" y2="517.66" stroke="#111" stroke-opacity="0.25" stroke-width="1.5"/>
<line x1="1492.4" x2="1652.35" y1="517.66" y2="517.66" stroke="#111" stroke-opacity="0.14" stroke-width="1.5"/>
<line x1="1652.35" x2="1698.05" y1="517.66" y2="517.66" stroke="#111" stroke-opacity="0.25" stroke-width="1.5"/>
<line x1="1698.05" x2="1743.75" y1="517.66" y2="517.66" stroke="#111" stroke-opacity="0.14" stroke-width="1.5"/>
<line x1="1743.75" x2="1766.6" y1="517.66" y2="517.66" stroke="#111" stroke-opacity="0.25" stroke-width="1.5"/>
<line x1="1766.6" x2="1789.45" y1="517.66" y2="517.66" stroke="#111" stroke-opacity="0.14" stroke-width="1.5"/>
<line x1="1789.45" x2="1858" y1="517.66" y2="517.66" stroke="#111" stroke-opacity="0.25" stroke-width="1.5"/>
<line x1="1858" x2="1898.8" y1="517.66" y2="517.66" stroke="#111" stroke-opacity="0.14" stroke-width="1.5"/>
<g stroke="#2b2b2b" stroke-width="1.6" fill="none">
<path d="M82 197.5H694.3M87 193.5V600M82 594.8H694.3"/>
<path d="M694.4 196.1H1308M694.4 596.2H1308"/>
</g>
<path d="M694.5 192V602M1307.6 196V597.5" stroke="#111" stroke-width="1.05" fill="none"/>
<g stroke="#2b2b2b" stroke-width="1.3" fill="none">
<path d="M106.45 193.4V197.5M106.45 594.8V600M126.1 193.4V197.5M126.1 594.8V600M145.75 193.4V197.5M145.75 594.8V600M165.4 193.4V197.5M165.4 594.8V600M185.05 193.4V197.5M185.05 594.8V600M204.7 193.4V197.5M204.7 594.8V600M224.35 193.4V197.5M224.35 594.8V600M244 193.4V197.5M244 594.8V600M263.65 193.4V197.5M263.65 594.8V600M283.3 193.4V197.5M283.3 594.8V600M302.95 193.4V197.5M302.95 594.8V600M322.6 193.4V197.5M322.6 594.8V600M342.25 193.4V197.5M342.25 594.8V600M361.9 193.4V197.5M361.9 594.8V600M381.55 193.4V197.5M381.55 594.8V600M401.2 193.4V197.5M401.2 594.8V600M420.85 193.4V197.5M420.85 594.8V600M440.5 193.4V197.5M440.5 594.8V600M460.15 193.4V197.5M460.15 594.8V600M479.8 193.4V197.5M479.8 594.8V600M499.45 193.4V197.5M499.45 594.8V600M519.1 193.4V197.5M519.1 594.8V600M538.75 193.4V197.5M538.75 594.8V600M558.4 193.4V197.5M558.4 594.8V600M578.05 193.4V197.5M578.05 594.8V600M597.7 193.4V197.5M597.7 594.8V600M617.35 193.4V197.5M617.35 594.8V600M637 193.4V197.5M637 594.8V600M656.65 193.4V197.5M656.65 594.8V600M676.3 193.4V197.5M676.3 594.8V600M81.5 197.55H87M81.5 276.96H87M81.5 356.37H87M81.5 435.78H87M81.5 515.19H87M81.5 594.6H87M714.37 191.8V196.1M714.37 596.2V600.8M734.84 191.8V196.1M734.84 596.2V600.8M755.31 191.8V196.1M755.31 596.2V600.8M775.78 191.8V196.1M775.78 596.2V600.8M796.25 191.8V196.1M796.25 596.2V600.8M816.72 191.8V196.1M816.72 596.2V600.8M837.19 191.8V196.1M837.19 596.2V600.8M857.66 191.8V196.1M857.66 596.2V600.8M878.13 191.8V196.1M878.13 596.2V600.8M898.6 191.8V196.1M898.6 596.2V600.8M919.07 191.8V196.1M919.07 596.2V600.8M939.54 191.8V196.1M939.54 596.2V600.8M960.01 191.8V196.1M960.01 596.2V600.8M980.48 191.8V196.1M980.48 596.2V600.8M1000.95 191.8V196.1M1000.95 596.2V600.8M1021.42 191.8V196.1M1021.42 596.2V600.8M1041.89 191.8V196.1M1041.89 596.2V600.8M1062.36 191.8V196.1M1062.36 596.2V600.8M1082.83 191.8V196.1M1082.83 596.2V600.8M1103.3 191.8V196.1M1103.3 596.2V600.8M1123.77 191.8V196.1M1123.77 596.2V600.8M1144.24 191.8V196.1M1144.24 596.2V600.8M1164.71 191.8V196.1M1164.71 596.2V600.8M1185.18 191.8V196.1M1185.18 596.2V600.8M1205.65 191.8V196.1M1205.65 596.2V600.8M1226.12 191.8V196.1M1226.12 596.2V600.8M1246.59 191.8V196.1M1246.59 596.2V600.8M1267.06 191.8V196.1M1267.06 596.2V600.8M1287.53 191.8V196.1M1287.53 596.2V600.8"/>
</g>
<line x1="1309.4" x2="1309.4" y1="136" y2="599" stroke="#777" stroke-width="0.9"/>
<line x1="1309" x2="1898.8" y1="598.4" y2="598.4" stroke="#4a4620" stroke-width="1.8"/>
<path d="M1331.05 598V604M1353.9 598V604M1376.75 598V604M1399.6 598V604M1422.45 598V604M1445.3 598V604M1468.15 598V604M1491 598V604M1513.85 598V604M1536.7 598V604M1559.55 598V604M1582.4 598V604M1605.25 598V604M1628.1 598V604M1650.95 598V604M1673.8 598V604M1696.65 598V604M1719.5 598V604M1742.35 598V604M1765.2 598V604M1788.05 598V604M1810.9 598V604M1833.75 598V604M1856.6 598V604M1879.45 598V604" stroke="#333" stroke-width="1.4" fill="none"/>
<line x1="690.5" x2="690.5" y1="133.5" y2="146" stroke="#222" stroke-width="1.1"/>
<g font-family="Liberation Sans, Arial, Helvetica, sans-serif" font-weight="bold" fill="#1a1a1a" font-size="12" text-anchor="end">
<text x="76.5" y="201.85">15</text>
<text x="76.5" y="281.26">12</text>
<text x="76.5" y="360.67">9</text>
<text x="76.5" y="440.08">6</text>
<text x="76.5" y="519.49">3</text>
<text x="76.5" y="598.9">0</text>
</g>
<g font-family="Liberation Sans, Arial, Helvetica, sans-serif" font-weight="bold" fill="#1a1a1a" font-size="12" text-anchor="middle" stroke="#1a1a1a" stroke-width="0.25">
<text x="96.12" y="614">1</text>
<text x="115.78" y="614">2</text>
<text x="135.42" y="614">3</text>
<text x="155.07" y="614">4</text>
<text x="174.72" y="614">5</text>
<text x="194.38" y="614">6</text>
<text x="214.03" y="614">7</text>
<text x="233.67" y="614">8</text>
<text x="253.32" y="614">9</text>
<text x="272.97" y="614">10</text>
<text x="292.62" y="614">11</text>
<text x="312.27" y="614">12</text>
<text x="331.92" y="614">13</text>
<text x="351.57" y="614">14</text>
<text x="371.22" y="614">15</text>
<text x="390.88" y="614">16</text>
<text x="410.52" y="614">17</text>
<text x="430.17" y="614">18</text>
<text x="449.82" y="614">19</text>
<text x="469.47" y="614">20</text>
<text x="489.12" y="614">21</text>
<text x="508.77" y="614">22</text>
<text x="528.42" y="614">23</text>
<text x="548.07" y="614">24</text>
<text x="567.72" y="614">25</text>
<text x="587.37" y="614">26</text>
<text x="607.02" y="614">27</text>
<text x="626.67" y="614">28</text>
<text x="646.32" y="614">29</text>
<text x="665.97" y="614">30</text>
<text x="685.62" y="614">31</text>
</g>
<g font-family="Liberation Sans, Arial, Helvetica, sans-serif" font-weight="bold" fill="#1a1a1a" font-size="12.8" text-anchor="middle" stroke="#1a1a1a" stroke-width="0.25">
<text x="704.13" y="616.6">1</text>
<text x="724.61" y="616.6">2</text>
<text x="745.08" y="616.6">3</text>
<text x="765.54" y="616.6">4</text>
<text x="786.01" y="616.6">5</text>
<text x="806.49" y="616.6">6</text>
<text x="826.95" y="616.6">7</text>
<text x="847.42" y="616.6">8</text>
<text x="867.89" y="616.6">9</text>
<text x="888.37" y="616.6">10</text>
<text x="908.84" y="616.6">11</text>
<text x="929.3" y="616.6">12</text>
<text x="949.77" y="616.6">13</text>
<text x="970.25" y="616.6">14</text>
<text x="990.71" y="616.6">15</text>
<text x="1011.18" y="616.6">16</text>
<text x="1031.65" y="616.6">17</text>
<text x="1052.12" y="616.6">18</text>
<text x="1072.6" y="616.6">19</text>
<text x="1093.07" y="616.6">20</text>
<text x="1113.53" y="616.6">21</text>
<text x="1134.01" y="616.6">22</text>
<text x="1154.47" y="616.6">23</text>
<text x="1174.94" y="616.6">24</text>
<text x="1195.41" y="616.6">25</text>
<text x="1215.88" y="616.6">26</text>
<text x="1236.36" y="616.6">27</text>
<text x="1256.82" y="616.6">28</text>
<text x="1277.3" y="616.6">29</text>
<text x="1297.76" y="616.6">30</text>
</g>
<g font-family="Liberation Sans, Arial, Helvetica, sans-serif" font-weight="bold" fill="#1a1a1a" font-size="15.6" text-anchor="middle" stroke="#1a1a1a" stroke-width="0.3">
<text x="1319.57" y="621.8">1</text>
<text x="1342.42" y="621.8">2</text>
<text x="1365.27" y="621.8">3</text>
<text x="1388.12" y="621.8">4</text>
<text x="1410.97" y="621.8">5</text>
<text x="1433.82" y="621.8">6</text>
<text x="1456.67" y="621.8">7</text>
<text x="1479.52" y="621.8">8</text>
<text x="1502.37" y="621.8">9</text>
<text x="1525.22" y="621.8">10</text>
<text x="1548.07" y="621.8">11</text>
<text x="1570.92" y="621.8">12</text>
<text x="1593.77" y="621.8">13</text>
<text x="1616.62" y="621.8">14</text>
<text x="1639.47" y="621.8">15</text>
<text x="1662.32" y="621.8">16</text>
<text x="1685.17" y="621.8">17</text>
<text x="1708.02" y="621.8">18</text>
<text x="1730.87" y="621.8">19</text>
<text x="1753.72" y="621.8">20</text>
<text x="1776.57" y="621.8">21</text>
<text x="1799.42" y="621.8">22</text>
<text x="1822.27" y="621.8">23</text>
<text x="1845.12" y="621.8">24</text>
<text x="1867.97" y="621.8">25</text>
<text x="1890.82" y="621.8">26</text>
</g>
<text font-family="Liberation Sans, Arial, Helvetica, sans-serif" fill="#000" font-size="23" text-anchor="middle" textLength="46.4" lengthAdjust="spacingAndGlyphs" stroke="#000" stroke-width="0.35" transform="translate(50.3 395.8) rotate(-90)">Uren</text>
<text font-family="Liberation Sans, Arial, Helvetica, sans-serif" font-weight="bold" fill="#1a1a1a" font-size="17.5" y="144.4"><tspan x="61.2" textLength="54.17" lengthAdjust="spacingAndGlyphs">Aantal</tspan> <tspan x="121.88" textLength="38.83" lengthAdjust="spacingAndGlyphs">uren</tspan> <tspan x="168.3" textLength="106.53" lengthAdjust="spacingAndGlyphs">zonneschijn</tspan></text>
<text font-family="Liberation Sans, Arial, Helvetica, sans-serif" font-weight="bold" fill="#1a1a1a" font-size="15.8" y="171"><tspan x="60.24" textLength="19.46" lengthAdjust="spacingAndGlyphs">De</tspan> <tspan x="86.36" textLength="30.94" lengthAdjust="spacingAndGlyphs">Bilt,</tspan> <tspan x="122.59" textLength="43.66" lengthAdjust="spacingAndGlyphs">maart</tspan> <tspan x="173.7" textLength="35.38" lengthAdjust="spacingAndGlyphs">2024</tspan></text>
<text font-family="Liberation Sans, Arial, Helvetica, sans-serif" fill="#000" font-size="36.6" y="41.4" stroke="#000" stroke-width="0.55"><tspan x="303.2" textLength="95.95" lengthAdjust="spacingAndGlyphs">hours</tspan> <tspan x="408.98" textLength="34.28" lengthAdjust="spacingAndGlyphs">of</tspan> <tspan x="454.23" textLength="134.44" lengthAdjust="spacingAndGlyphs">sunlight</tspan> <tspan x="599.23" textLength="54.76" lengthAdjust="spacingAndGlyphs">per</tspan> <tspan x="667.61" textLength="58.29" lengthAdjust="spacingAndGlyphs">day</tspan> <tspan x="737.55" textLength="171.32" lengthAdjust="spacingAndGlyphs">compared</tspan> <tspan x="921.03" textLength="73.62" lengthAdjust="spacingAndGlyphs">with</tspan> <tspan x="1004.83" textLength="57.48" lengthAdjust="spacingAndGlyphs">day</tspan> <tspan x="1074.4" textLength="109.58" lengthAdjust="spacingAndGlyphs">length</tspan> <tspan x="1191.43" textLength="110.62" lengthAdjust="spacingAndGlyphs">March</tspan> <tspan x="1308.62" textLength="19.15" lengthAdjust="spacingAndGlyphs">1</tspan> <tspan x="1342.79" textLength="13.52" lengthAdjust="spacingAndGlyphs">-</tspan> <tspan x="1362.89" textLength="73.95" lengthAdjust="spacingAndGlyphs">May</tspan> <tspan x="1448.94" textLength="53.7" lengthAdjust="spacingAndGlyphs">26,</tspan> <tspan x="1512.58" textLength="83.27" lengthAdjust="spacingAndGlyphs">2024</tspan></text>
<text font-family="Liberation Sans, Arial, Helvetica, sans-serif" fill="#000" font-size="32.8" y="157.7" stroke="#000" stroke-width="0.5"><tspan x="322.55" textLength="97.98" lengthAdjust="spacingAndGlyphs">March</tspan> <tspan x="428.87" textLength="75.48" lengthAdjust="spacingAndGlyphs">2024</tspan></text>
<text font-family="Liberation Sans, Arial, Helvetica, sans-serif" fill="#000" font-size="32.8" y="157.7" stroke="#000" stroke-width="0.5"><tspan x="933.9" textLength="71.3" lengthAdjust="spacingAndGlyphs">April</tspan> <tspan x="1013.07" textLength="75.28" lengthAdjust="spacingAndGlyphs">2024</tspan></text>
<text font-family="Liberation Sans, Arial, Helvetica, sans-serif" fill="#000" font-size="32.8" y="157.7" stroke="#000" stroke-width="0.5"><tspan x="1548.92" textLength="64.56" lengthAdjust="spacingAndGlyphs">May</tspan> <tspan x="1623.38" textLength="74.57" lengthAdjust="spacingAndGlyphs">2024</tspan></text>
<rect x="1597" y="642.8" width="24" height="16" fill="#5ecdfa"/>
<rect x="1870.4" y="642.6" width="24.4" height="16.4" fill="#fffb52"/>
<text font-family="Liberation Sans, Arial, Helvetica, sans-serif" font-weight="bold" fill="#1a1a1a" font-size="19.3" y="655.8"><tspan x="1628.49" textLength="63.62" lengthAdjust="spacingAndGlyphs">Langst</tspan> <tspan x="1698.42" textLength="87.51" lengthAdjust="spacingAndGlyphs">mogelijke</tspan> <tspan x="1794" textLength="41.62" lengthAdjust="spacingAndGlyphs">duur</tspan></text>
<defs><radialGradient id="sg" cx="0.5" cy="0.5" r="0.5"><stop offset="0" stop-color="#fedd55"/><stop offset="0.72" stop-color="#fccf48"/><stop offset="0.9" stop-color="#f7b847"/><stop offset="1" stop-color="#ec9a50"/></radialGradient></defs>
<g stroke="#efdb78" stroke-width="2.2" stroke-linecap="round">
<line x1="48.1" y1="154.4" x2="54.3" y2="154.4"/>
<line x1="45.55" y1="163.9" x2="50.92" y2="167"/>
<line x1="38.6" y1="170.85" x2="41.7" y2="176.22"/>
<line x1="29.1" y1="173.4" x2="29.1" y2="179.6"/>
<line x1="19.6" y1="170.85" x2="16.5" y2="176.22"/>
<line x1="12.65" y1="163.9" x2="7.28" y2="167"/>
<line x1="10.1" y1="154.4" x2="3.9" y2="154.4"/>
<line x1="12.65" y1="144.9" x2="7.28" y2="141.8"/>
<line x1="19.6" y1="137.95" x2="16.5" y2="132.58"/>
<line x1="29.1" y1="135.4" x2="29.1" y2="129.2"/>
<line x1="38.6" y1="137.95" x2="41.7" y2="132.58"/>
<line x1="45.55" y1="144.9" x2="50.92" y2="141.8"/>
</g>
<circle cx="29.1" cy="154.4" r="14.1" fill="url(#sg)"/>
</svg>
</body></html>
